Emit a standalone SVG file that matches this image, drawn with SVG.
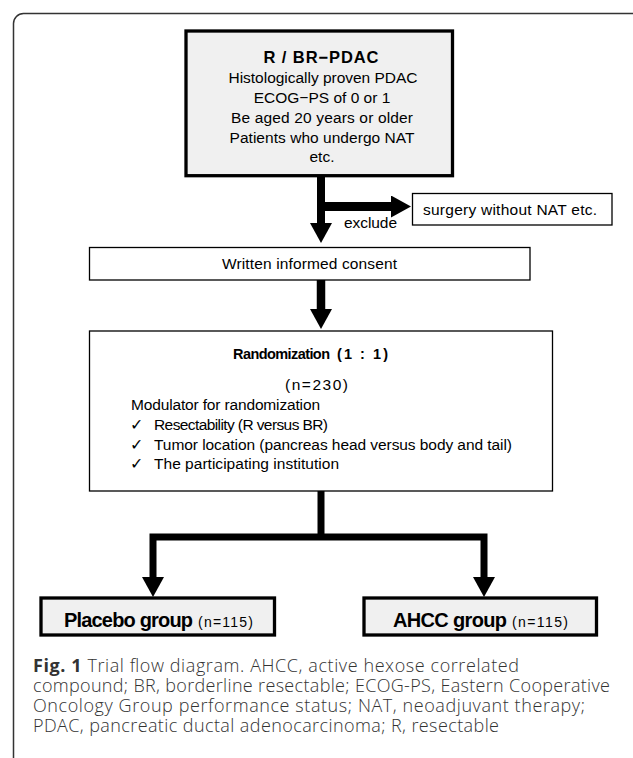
<svg xmlns="http://www.w3.org/2000/svg" width="633" height="758" viewBox="0 0 633 758">
<style>
.t{font-family:"Liberation Sans",Arial,sans-serif;font-size:15.5px;fill:#000}
.b{font-weight:bold}
.c{text-anchor:middle}
.h{font-size:16.5px}
.r{font-size:14.5px}
.g{font-size:20px}
.n{font-size:14px}
.thin{fill:#fff;stroke:#000;stroke-width:1.3}
.thick{fill:#f0f0f0;stroke:#000;stroke-width:3.3}
.ln{fill:none;stroke:#000;stroke-linejoin:miter}
.cap{font-family:"Open Sans","Liberation Sans",sans-serif;font-size:18px;font-weight:300;fill:#333}
</style>
<defs>
<marker id="ah" markerUnits="userSpaceOnUse" viewBox="0 0 20 22" markerWidth="20" markerHeight="22" refX="0" refY="11" orient="auto">
<path d="M0,0 L20,11 L0,22 Z" fill="#000"/>
</marker>
</defs>
<rect x="13.5" y="13.5" width="700" height="800" rx="10" ry="10" fill="none" stroke="#333" stroke-width="1.5"/>

<g id="connectors">
<path class="ln" d="M321,175 V223" stroke-width="8" marker-end="url(#ah)"/>
<path class="ln" d="M321,206.5 H391" stroke-width="9" marker-end="url(#ah)"/>
<path class="ln" d="M321,280 V309" stroke-width="8.5" marker-end="url(#ah)"/>
<path class="ln" d="M321,491 V537" stroke-width="7"/>
<path class="ln" d="M321,537 H153 V577" stroke-width="7" marker-end="url(#ah)"/>
<path class="ln" d="M321,537 H484 V577" stroke-width="7" marker-end="url(#ah)"/>
</g>

<g id="eligibility">
<rect class="thick" x="186" y="31" width="266.5" height="144.7"/>
<text class="t b c h" x="321" y="63" textLength="115">R / BR−PDAC</text>
<text class="t c" x="323" y="83" textLength="189">Histologically proven PDAC</text>
<text class="t c" x="322" y="103">ECOG−PS of 0 or 1</text>
<text class="t c" x="322" y="123" textLength="182">Be aged 20 years or older</text>
<text class="t c" x="322" y="143" textLength="185">Patients who undergo NAT</text>
<text class="t c" x="322" y="162">etc.</text>
</g>

<g id="exclude-label">
<text class="t" x="344" y="228" textLength="53">exclude</text>
</g>

<g id="excluded">
<rect class="thin" x="412.5" y="193.5" width="199.5" height="31.5"/>
<text class="t" x="423" y="215" textLength="174">surgery without NAT etc.</text>
</g>

<g id="consent">
<rect class="thin" x="89.5" y="247.5" width="440.5" height="32.5"/>
<text class="t" x="222" y="269" textLength="175">Written informed consent</text>
</g>

<g id="randomization">
<rect class="thin" x="89.5" y="331" width="463" height="160"/>
<text class="t b r" x="233" y="359" textLength="97">Randomization</text>
<text class="t b r" x="337" y="359" textLength="51">(1 : 1)</text>
<text class="t" x="285" y="390" textLength="63">(n=230)</text>
<text class="t" x="131" y="410" textLength="189">Modulator for randomization</text>
<text class="t" x="130" y="430">✓</text>
<text class="t" x="154" y="430" textLength="174">Resectability (R versus BR)</text>
<text class="t" x="130" y="450">✓</text>
<text class="t" x="154" y="450" textLength="358">Tumor location (pancreas head versus body and tail)</text>
<text class="t" x="130" y="469">✓</text>
<text class="t" x="154" y="469" textLength="185">The participating institution</text>
</g>

<g id="placebo">
<rect class="thick" x="41" y="598" width="233.5" height="37"/>
<text class="t b g" x="64" y="627" textLength="129">Placebo group</text>
<text class="t n" x="198" y="627" textLength="55">(n=115)</text>
</g>

<g id="ahcc">
<rect class="thick" x="364" y="598" width="232.5" height="37"/>
<text class="t b g" x="393" y="627" textLength="114">AHCC group</text>
<text class="t n" x="512" y="627" textLength="56">(n=115)</text>
</g>

<g id="caption">
<text class="cap" x="33" y="672" textLength="486"><tspan font-weight="bold">Fig. 1</tspan> Trial flow diagram. AHCC, active hexose correlated</text>
<text class="cap" x="33" y="692" textLength="577">compound; BR, borderline resectable; ECOG-PS, Eastern Cooperative</text>
<text class="cap" x="33" y="712" textLength="552">Oncology Group performance status; NAT, neoadjuvant therapy;</text>
<text class="cap" x="33" y="732" textLength="466">PDAC, pancreatic ductal adenocarcinoma; R, resectable</text>
</g>
</svg>
